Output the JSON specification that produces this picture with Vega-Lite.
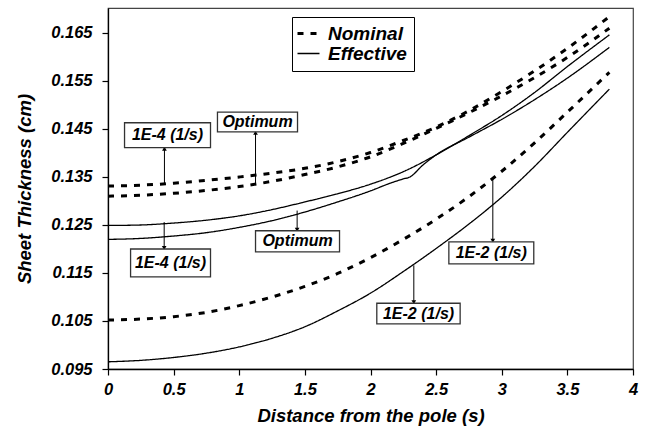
{
  "$schema": "https://vega.github.io/schema/vega-lite/v6.json",
  "width": 525,
  "height": 361,
  "autosize": {"type": "none"},
  "padding": {"left": 108, "top": 8, "right": 14, "bottom": 63},
  "background": "white",
  "config": {
    "view": {"stroke": "#444", "strokeWidth": 1.2},
    "font": "Liberation Sans",
    "axis": {
      "labelFont": "Liberation Sans", "labelFontSize": 16.5, "labelFontStyle": "italic", "labelFontWeight": "bold", "labelColor": "black",
      "titleFont": "Liberation Sans", "titleFontSize": 18.5, "titleFontStyle": "italic", "titleFontWeight": "bold", "titleColor": "black",
      "grid": false, "domainColor": "black", "domainWidth": 1.3, "tickColor": "black", "tickSize": 6, "tickWidth": 1.2
    }
  },
  "datasets": {
    "curves": [
      {"series": "Nominal 1E-4", "type": "Nominal", "x": 0, "y": 0.1331},
      {"series": "Nominal 1E-4", "type": "Nominal", "x": 0.25, "y": 0.1333},
      {"series": "Nominal 1E-4", "type": "Nominal", "x": 0.5, "y": 0.1337},
      {"series": "Nominal 1E-4", "type": "Nominal", "x": 0.75, "y": 0.1343},
      {"series": "Nominal 1E-4", "type": "Nominal", "x": 1, "y": 0.135},
      {"series": "Nominal 1E-4", "type": "Nominal", "x": 1.25, "y": 0.1358},
      {"series": "Nominal 1E-4", "type": "Nominal", "x": 1.5, "y": 0.1368},
      {"series": "Nominal 1E-4", "type": "Nominal", "x": 1.75, "y": 0.1382},
      {"series": "Nominal 1E-4", "type": "Nominal", "x": 2, "y": 0.1401},
      {"series": "Nominal 1E-4", "type": "Nominal", "x": 2.25, "y": 0.1426},
      {"series": "Nominal 1E-4", "type": "Nominal", "x": 2.5, "y": 0.1454},
      {"series": "Nominal 1E-4", "type": "Nominal", "x": 2.75, "y": 0.1488},
      {"series": "Nominal 1E-4", "type": "Nominal", "x": 3, "y": 0.1528},
      {"series": "Nominal 1E-4", "type": "Nominal", "x": 3.25, "y": 0.1571},
      {"series": "Nominal 1E-4", "type": "Nominal", "x": 3.5, "y": 0.1618},
      {"series": "Nominal 1E-4", "type": "Nominal", "x": 3.82, "y": 0.1684},

      {"series": "Nominal Optimum", "type": "Nominal", "x": 0, "y": 0.131},
      {"series": "Nominal Optimum", "type": "Nominal", "x": 0.25, "y": 0.1312},
      {"series": "Nominal Optimum", "type": "Nominal", "x": 0.5, "y": 0.1316},
      {"series": "Nominal Optimum", "type": "Nominal", "x": 0.75, "y": 0.1322},
      {"series": "Nominal Optimum", "type": "Nominal", "x": 1, "y": 0.133},
      {"series": "Nominal Optimum", "type": "Nominal", "x": 1.25, "y": 0.1341},
      {"series": "Nominal Optimum", "type": "Nominal", "x": 1.5, "y": 0.1355},
      {"series": "Nominal Optimum", "type": "Nominal", "x": 1.75, "y": 0.1371},
      {"series": "Nominal Optimum", "type": "Nominal", "x": 2, "y": 0.1392},
      {"series": "Nominal Optimum", "type": "Nominal", "x": 2.25, "y": 0.142},
      {"series": "Nominal Optimum", "type": "Nominal", "x": 2.5, "y": 0.1451},
      {"series": "Nominal Optimum", "type": "Nominal", "x": 2.75, "y": 0.1484},
      {"series": "Nominal Optimum", "type": "Nominal", "x": 3, "y": 0.1519},
      {"series": "Nominal Optimum", "type": "Nominal", "x": 3.25, "y": 0.1557},
      {"series": "Nominal Optimum", "type": "Nominal", "x": 3.5, "y": 0.1599},
      {"series": "Nominal Optimum", "type": "Nominal", "x": 3.82, "y": 0.166},

      {"series": "Nominal 1E-2", "type": "Nominal", "x": 0, "y": 0.1052},
      {"series": "Nominal 1E-2", "type": "Nominal", "x": 0.25, "y": 0.1054},
      {"series": "Nominal 1E-2", "type": "Nominal", "x": 0.5, "y": 0.1059},
      {"series": "Nominal 1E-2", "type": "Nominal", "x": 0.75, "y": 0.1068},
      {"series": "Nominal 1E-2", "type": "Nominal", "x": 1, "y": 0.1082},
      {"series": "Nominal 1E-2", "type": "Nominal", "x": 1.25, "y": 0.11},
      {"series": "Nominal 1E-2", "type": "Nominal", "x": 1.5, "y": 0.1122},
      {"series": "Nominal 1E-2", "type": "Nominal", "x": 1.75, "y": 0.1149},
      {"series": "Nominal 1E-2", "type": "Nominal", "x": 2, "y": 0.1182},
      {"series": "Nominal 1E-2", "type": "Nominal", "x": 2.25, "y": 0.122},
      {"series": "Nominal 1E-2", "type": "Nominal", "x": 2.5, "y": 0.1262},
      {"series": "Nominal 1E-2", "type": "Nominal", "x": 2.75, "y": 0.1309},
      {"series": "Nominal 1E-2", "type": "Nominal", "x": 3, "y": 0.1362},
      {"series": "Nominal 1E-2", "type": "Nominal", "x": 3.25, "y": 0.1421},
      {"series": "Nominal 1E-2", "type": "Nominal", "x": 3.5, "y": 0.1485},
      {"series": "Nominal 1E-2", "type": "Nominal", "x": 3.82, "y": 0.1568},

      {"series": "Effective 1E-4", "type": "Effective", "x": 0, "y": 0.1249},
      {"series": "Effective 1E-4", "type": "Effective", "x": 0.25, "y": 0.125},
      {"series": "Effective 1E-4", "type": "Effective", "x": 0.5, "y": 0.1254},
      {"series": "Effective 1E-4", "type": "Effective", "x": 0.75, "y": 0.126},
      {"series": "Effective 1E-4", "type": "Effective", "x": 1, "y": 0.1269},
      {"series": "Effective 1E-4", "type": "Effective", "x": 1.25, "y": 0.1282},
      {"series": "Effective 1E-4", "type": "Effective", "x": 1.5, "y": 0.1298},
      {"series": "Effective 1E-4", "type": "Effective", "x": 1.75, "y": 0.1315},
      {"series": "Effective 1E-4", "type": "Effective", "x": 2, "y": 0.1335},
      {"series": "Effective 1E-4", "type": "Effective", "x": 2.25, "y": 0.1361},
      {"series": "Effective 1E-4", "type": "Effective", "x": 2.5, "y": 0.1396},
      {"series": "Effective 1E-4", "type": "Effective", "x": 2.75, "y": 0.1436},
      {"series": "Effective 1E-4", "type": "Effective", "x": 3, "y": 0.1478},
      {"series": "Effective 1E-4", "type": "Effective", "x": 3.25, "y": 0.1526},
      {"series": "Effective 1E-4", "type": "Effective", "x": 3.5, "y": 0.158},
      {"series": "Effective 1E-4", "type": "Effective", "x": 3.82, "y": 0.1646},

      {"series": "Effective Optimum", "type": "Effective", "x": 0, "y": 0.122},
      {"series": "Effective Optimum", "type": "Effective", "x": 0.25, "y": 0.1222},
      {"series": "Effective Optimum", "type": "Effective", "x": 0.5, "y": 0.1227},
      {"series": "Effective Optimum", "type": "Effective", "x": 0.75, "y": 0.1234},
      {"series": "Effective Optimum", "type": "Effective", "x": 1, "y": 0.1245},
      {"series": "Effective Optimum", "type": "Effective", "x": 1.25, "y": 0.1259},
      {"series": "Effective Optimum", "type": "Effective", "x": 1.5, "y": 0.1277},
      {"series": "Effective Optimum", "type": "Effective", "x": 1.75, "y": 0.1298},
      {"series": "Effective Optimum", "type": "Effective", "x": 2, "y": 0.1321},
      {"series": "Effective Optimum", "type": "Effective", "x": 2.15, "y": 0.1337},
      {"series": "Effective Optimum", "type": "Effective", "x": 2.25, "y": 0.1346},
      {"series": "Effective Optimum", "type": "Effective", "x": 2.3, "y": 0.135},
      {"series": "Effective Optimum", "type": "Effective", "x": 2.4, "y": 0.1375},
      {"series": "Effective Optimum", "type": "Effective", "x": 2.5, "y": 0.1396},
      {"series": "Effective Optimum", "type": "Effective", "x": 2.75, "y": 0.1433},
      {"series": "Effective Optimum", "type": "Effective", "x": 3, "y": 0.147},
      {"series": "Effective Optimum", "type": "Effective", "x": 3.25, "y": 0.1511},
      {"series": "Effective Optimum", "type": "Effective", "x": 3.5, "y": 0.1556},
      {"series": "Effective Optimum", "type": "Effective", "x": 3.82, "y": 0.162},

      {"series": "Effective 1E-2", "type": "Effective", "x": 0, "y": 0.0965},
      {"series": "Effective 1E-2", "type": "Effective", "x": 0.25, "y": 0.0968},
      {"series": "Effective 1E-2", "type": "Effective", "x": 0.5, "y": 0.0974},
      {"series": "Effective 1E-2", "type": "Effective", "x": 0.75, "y": 0.0983},
      {"series": "Effective 1E-2", "type": "Effective", "x": 1, "y": 0.0996},
      {"series": "Effective 1E-2", "type": "Effective", "x": 1.25, "y": 0.1014},
      {"series": "Effective 1E-2", "type": "Effective", "x": 1.5, "y": 0.1038},
      {"series": "Effective 1E-2", "type": "Effective", "x": 1.75, "y": 0.1071},
      {"series": "Effective 1E-2", "type": "Effective", "x": 2, "y": 0.1108},
      {"series": "Effective 1E-2", "type": "Effective", "x": 2.25, "y": 0.1153},
      {"series": "Effective 1E-2", "type": "Effective", "x": 2.5, "y": 0.1201},
      {"series": "Effective 1E-2", "type": "Effective", "x": 2.75, "y": 0.1252},
      {"series": "Effective 1E-2", "type": "Effective", "x": 3, "y": 0.1308},
      {"series": "Effective 1E-2", "type": "Effective", "x": 3.25, "y": 0.1372},
      {"series": "Effective 1E-2", "type": "Effective", "x": 3.5, "y": 0.1443},
      {"series": "Effective 1E-2", "type": "Effective", "x": 3.82, "y": 0.1533}
    ],
    "boxes": [
      {"label": "1E-4 (1/s)", "x1": 0.126, "x2": 0.781, "y1": 0.1411, "y2": 0.1463, "cx": 0.453, "cy": 0.1437},
      {"label": "Optimum", "x1": 0.834, "x2": 1.444, "y1": 0.1444, "y2": 0.1485, "cx": 1.139, "cy": 0.14645},
      {"label": "1E-4 (1/s)", "x1": 0.172, "x2": 0.781, "y1": 0.1142, "y2": 0.12, "cx": 0.476, "cy": 0.1171},
      {"label": "Optimum", "x1": 1.124, "x2": 1.764, "y1": 0.1194, "y2": 0.1238, "cx": 1.444, "cy": 0.1216},
      {"label": "1E-2 (1/s)", "x1": 2.597, "x2": 3.244, "y1": 0.1169, "y2": 0.1215, "cx": 2.92, "cy": 0.1192},
      {"label": "1E-2 (1/s)", "x1": 2.048, "x2": 2.683, "y1": 0.1044, "y2": 0.1087, "cx": 2.366, "cy": 0.10655}
    ],
    "arrows": [
      {"x": 0.43, "from": 0.1336, "to": 0.1409, "dir": "up"},
      {"x": 1.124, "from": 0.1337, "to": 0.1442, "dir": "up"},
      {"x": 0.428, "from": 0.1256, "to": 0.1202, "dir": "down"},
      {"x": 1.441, "from": 0.128, "to": 0.124, "dir": "down"},
      {"x": 2.932, "from": 0.135, "to": 0.1217, "dir": "down"},
      {"x": 2.33, "from": 0.1166, "to": 0.1089, "dir": "down"}
    ]
  },
  "layer": [
    {
      "data": {"name": "curves"},
      "transform": [{"filter": "datum.type === 'Nominal'"}],
      "mark": {"type": "line", "color": "black", "strokeWidth": 3, "interpolate": "monotone"},
      "encoding": {
        "x": {"field": "x", "type": "quantitative", "scale": {"domain": [0, 4], "nice": false},
              "axis": {"title": "Distance from the pole (s)", "values": [0, 0.5, 1, 1.5, 2, 2.5, 3, 3.5, 4], "format": "~g", "labelPadding": 6, "titlePadding": 9, "labelFlush": false}},
        "y": {"field": "y", "type": "quantitative", "scale": {"domain": [0.095, 0.1702], "nice": false, "zero": false},
              "axis": {"title": "Sheet Thickness (cm)", "values": [0.095, 0.105, 0.115, 0.125, 0.135, 0.145, 0.155, 0.165], "format": ".3f", "labelPadding": 10, "titlePadding": 16}},
        "detail": {"field": "series"},
        "strokeDash": {"field": "type", "type": "nominal",
          "scale": {"domain": ["Nominal", "Effective"], "range": [[6, 7], [1, 0]]},
          "legend": {
            "title": null, "orient": "none", "legendX": 184, "legendY": 9, "direction": "vertical",
            "fillColor": "white", "strokeColor": "black", "padding": 7,
            "symbolType": "stroke", "symbolSize": 484, "symbolStrokeColor": "black",
            "labelFont": "Liberation Sans", "labelFontSize": 19, "labelFontStyle": "italic", "labelFontWeight": "bold", "labelColor": "black",
            "labelOffset": 10, "rowPadding": 0,
            "encode": {"symbols": {"update": {"strokeWidth": {"signal": "datum.value === 'Nominal' ? 3 : 1.3"}}}}
          }
        }
      }
    },
    {
      "data": {"name": "curves"},
      "transform": [{"filter": "datum.type === 'Effective'"}],
      "mark": {"type": "line", "color": "black", "strokeWidth": 1.3, "interpolate": "monotone"},
      "encoding": {
        "x": {"field": "x", "type": "quantitative"},
        "y": {"field": "y", "type": "quantitative"},
        "detail": {"field": "series"},
        "strokeDash": {"field": "type", "type": "nominal"}
      }
    },
    {
      "data": {"name": "arrows"},
      "mark": {"type": "rule", "color": "black", "strokeWidth": 1},
      "encoding": {
        "x": {"field": "x", "type": "quantitative"},
        "y": {"field": "from", "type": "quantitative"},
        "y2": {"field": "to"}
      }
    },
    {
      "data": {"name": "arrows"},
      "mark": {"type": "point", "filled": true, "color": "black", "size": 22, "opacity": 1},
      "encoding": {
        "x": {"field": "x", "type": "quantitative"},
        "y": {"field": "to", "type": "quantitative"},
        "shape": {"field": "dir", "type": "nominal", "scale": {"domain": ["up", "down"], "range": ["triangle-up", "triangle-down"]}, "legend": null}
      }
    },
    {
      "data": {"name": "boxes"},
      "mark": {"type": "rect", "fill": "white", "stroke": "#333", "strokeWidth": 1.3},
      "encoding": {
        "x": {"field": "x1", "type": "quantitative"},
        "x2": {"field": "x2"},
        "y": {"field": "y1", "type": "quantitative"},
        "y2": {"field": "y2"}
      }
    },
    {
      "data": {"name": "boxes"},
      "mark": {"type": "text", "font": "Liberation Sans", "fontSize": 16, "fontStyle": "italic", "fontWeight": "bold", "color": "black", "align": "center", "baseline": "middle"},
      "encoding": {
        "x": {"field": "cx", "type": "quantitative"},
        "y": {"field": "cy", "type": "quantitative"},
        "text": {"field": "label"}
      }
    }
  ]
}
